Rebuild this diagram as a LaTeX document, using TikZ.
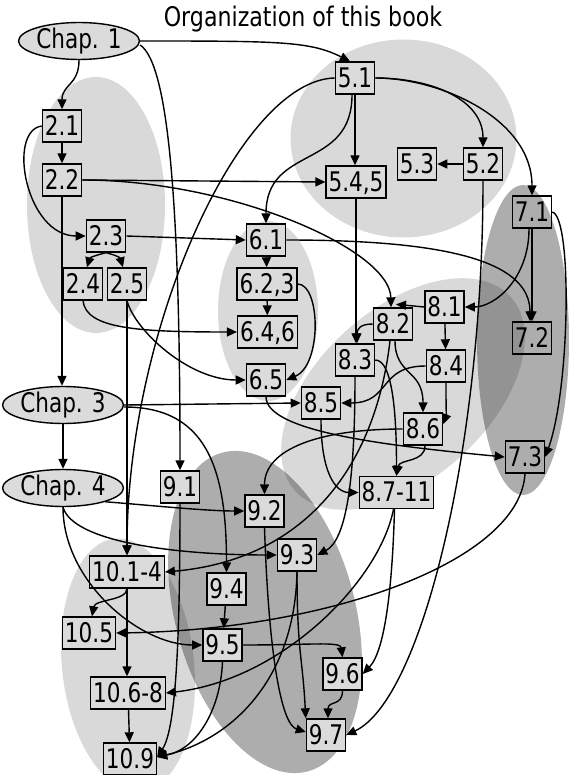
\documentclass[tikz,border=0pt]{standalone}
\usepackage{fontspec}
\setmainfont{DejaVu Sans}[FakeStretch=0.8]
\newfontfamily\titlefam{DejaVu Sans}[FakeStretch=0.82]
\usetikzlibrary{arrows.meta,shapes.geometric}
\definecolor{boxgray}{gray}{0.86}
\newcommand\myNodeFont{\fontsize{27}{30}\selectfont}
\newcommand\myTitleFont{\titlefam\fontsize{27}{30}\selectfont}
\begin{document}
\begin{tikzpicture}[x=1pt,y=-1pt,
  bx/.style={draw,line width=1.4pt,fill=boxgray,minimum height=32pt,inner xsep=2.4pt,inner ysep=0pt,text height=19.5pt,text depth=1pt,font=\myNodeFont},
  bxclear/.style={bx,fill=none},
  ch/.style={ellipse,draw,line width=1.4pt,fill=boxgray,minimum width=108pt,minimum height=35pt,inner sep=0pt,font=\myNodeFont},
  ar/.style={line width=1.4pt,-{Triangle[length=10pt,width=9pt]}},
  lightblob/.style={fill=black,fill opacity=0.15},
  darkblob/.style={fill=black,fill opacity=0.32}
]
\useasboundingbox (0,0) rectangle (568,775);
% background groups
\fill[lightblob] (96,205) ellipse [x radius=69, y radius=128];
\fill[lightblob] (403.5,138.5) ellipse [x radius=113, y radius=99];
\fill[lightblob] (268,311) ellipse [x radius=50, y radius=90];
\fill[lightblob, rotate around={42:(403,394)}] (403,394) ellipse [x radius=145, y radius=85];
\fill[darkblob, rotate around={-75:(265,612)}] (265,612) ellipse [x radius=165, y radius=90];
\fill[lightblob, rotate around={6:(128,665)}] (128,665) ellipse [x radius=66, y radius=127];
\fill[darkblob] (523,340) ellipse [x radius=46, y radius=155];

\node[font=\myTitleFont, anchor=base] (title) at (303,27) {Organization of this book};

\node[ch] (c1) at (79,41) {Chap. 1};
\node[ch] (c3) at (63,405) {Chap. 3};
\node[ch] (c4) at (63,488) {Chap. 4};
\node[bx] (n21) at (62,126) {2.1};
\node[bx] (n22) at (62,180) {2.2};
\node[bx] (n23) at (106,236) {2.3};
\node[bx] (n24) at (83,284) {2.4};
\node[bx] (n25) at (127,284) {2.5};
\node[bx] (n51) at (355,78) {5.1};
\node[bx] (n52) at (483,164) {5.2};
\node[bx] (n53) at (417,164) {5.3};
\node[bx] (n545) at (356,182) {5.4,5};
\node[bx] (n61) at (266,240) {6.1};
\node[bx] (n623) at (267,284) {6.2,3};
\node[bx] (n646) at (267.5,332) {6.4,6};
\node[bx] (n65) at (266,380) {6.5};
\node[bxclear] (n71) at (532,212) {7.1};
\node[bxclear] (n72) at (532,338) {7.2};
\node[bxclear] (n73) at (525,457) {7.3};
\node[bx] (n81) at (444.5,307) {8.1};
\node[bx] (n82) at (393,324) {8.2};
\node[bx] (n83) at (355,360) {8.3};
\node[bx] (n84) at (446,366) {8.4};
\node[bx] (n85) at (321,403) {8.5};
\node[bx] (n86) at (423,429) {8.6};
\node[bx] (n8711) at (396.5,492.5) {8.7-11};
\node[bx] (n91) at (180,487) {9.1};
\node[bx] (n92) at (264.5,511) {9.2};
\node[bx] (n93) at (297,555) {9.3};
\node[bx] (n94) at (226.5,589) {9.4};
\node[bx] (n95) at (222.5,645) {9.5};
\node[bx] (n96) at (342.5,674) {9.6};
\node[bx] (n97) at (326,735) {9.7};
\node[bx] (n1014) at (127,572) {10.1-4};
\node[bx] (n105) at (89,633) {10.5};
\node[bx] (n1068) at (128,693) {10.6-8};
\node[bx] (n109) at (130,759) {10.9};

% chapter 1
\draw[ar] (c1.south) .. controls +(0,25) and +(0,-25) .. (n21.north);
\draw[ar] (c1.east) .. controls +(140,0) and +(-40,-20) .. ([xshift=-5pt]n51.north);
\draw[ar] ([yshift=-4pt]c1.east) .. controls +(30,20) and +(0,-250) .. (n91.north);
% chapter 2
\draw[ar] (n21) -- (n22);
\draw[ar] (n21.west) .. controls +(-35,5) and +(-60,0) .. (n23.west);
\draw[ar] (n22.east) -- (n545.west);
\draw[ar] (n22.east) .. controls +(149,0) and +(-1,-58) .. ([xshift=-2pt]n82.north);
\draw[ar] (n22.south) -- (n22.south |- c3.north);
\draw[ar] (n23.east) -- (n61.west);
\draw[ar] (n23.south) .. controls +(-8,2) and +(3,-10) .. ([xshift=4pt]n24.north);
\draw[ar] (n23.south) .. controls +(8,2) and +(-3,-10) .. ([xshift=-4pt]n25.north);
\draw[ar] (n24.south) .. controls +(3,28) and +(-100,0) .. (n646.west);
\draw[ar] (n25.south) .. controls +(8,30) and +(-57,0) .. (n65.west);
\draw[ar] (n25.south) -- (n25.south |- n1014.north);
% chapter 5
\draw[ar] ([xshift=-3pt]n51.south) .. controls +(0,76) and +(0,-79) .. (n61.north);
\draw[ar] (n51.south) -- (n51.south |- n545.north);
\draw[ar] (n51.east) .. controls +(56,0) and +(0,-48) .. (n52.north);
\draw[ar] (n51.east) .. controls +(66,0) and +(0,-76) .. (n71.north);
\draw[ar] (n51.west) .. controls +(-95,2) and +(0,-226) .. (n1014.north);
\draw[ar] (n52.west) -- (n53.east);
\draw[ar] (n52.south) .. controls +(0,269) and +(75,-35) .. (n97.east);
\draw[ar] (n545.south) -- (n545.south |- n83.north);
% chapter 7
\draw[ar] (n71) -- (n72);
\draw[ar] ([xshift=-3pt]n71.south) .. controls +(0,50) and +(30,0) .. (n81.east);
\draw[ar] (n71.east) .. controls +(20,5) and +(25,-70) .. (n73.east);
\draw[ar] (n73.south) .. controls +(-5,87) and +(214,-3) .. (n105.east);
% chapter 6
\draw[ar] (n61) -- (n623);
\draw[ar] (n61.east) .. controls +(154,0) and +(0,-62) .. ([xshift=-2pt]n72.north);
\draw[ar] (n623) -- (n646);
\draw[ar] (n623.east) .. controls +(23,0) and +(36,-15) .. (n65.east);
\draw[ar] (n65.south) .. controls +(0,34) and +(-126,-12) .. (n73.west);
% chapter 3 and 4
\draw[ar] (c3.east) -- (n85.west);
\draw[ar] ([yshift=-2pt]c3.east) .. controls +(83,0) and +(0,-103) .. (n94.north);
\draw[ar] (c3) -- (c4);
\draw[ar] (c4.-18) .. controls +(40,3) and +(-40,0) .. (n92.west);
\draw[ar] (c4.south) .. controls +(10,35) and +(-100,0) .. (n93.west);
\draw[ar] (c4.south) .. controls +(0,74) and +(-63,0) .. (n95.west);
% chapter 8
\draw[ar] (n81.west) -- ([xshift=3pt,yshift=3pt]n82.north);
\draw[ar] (n81) -- (n84);
\draw[ar] (n82.west) .. controls +(-13,0) and +(0,-14) .. ([xshift=2pt]n83.north);
\draw[ar] ([xshift=2pt]n82.south) .. controls +(0,35) and +(0,-43) .. (n86.north);
\draw[ar] ([xshift=-3pt]n82.south) .. controls +(-15,130) and +(137,-12) .. (n1014.east);
\draw[ar] (n83.south) .. controls +(0,104) and +(29,-15) .. (n93.east);
\draw[ar] (n83.east) .. controls +(18,0) and +(0,-57) .. (n8711.north);
\draw[ar] (n84.west) .. controls +(-48,0) and +(50,0) .. (n85.east);
\draw[ar] (n84.south) .. controls +(0,30) and +(3,-8) .. ([yshift=5pt]n86.east);
\draw[ar] (n85.south) .. controls +(0,51) and +(-24,0) .. (n8711.west);
\draw[ar] ([xshift=2pt]n86.south) .. controls +(0,17) and +(3,-17) .. (n8711.north);
\draw[ar] (n86.west) .. controls +(-84,0) and +(0,-45) .. (n92.north);
\draw[ar] ([xshift=-2pt]n8711.south) .. controls +(-2,72) and +(23,-24) .. (n96.east);
\draw[ar] ([xshift=-3pt]n8711.south) .. controls +(-14,72) and +(116,-13) .. (n1068.east);
% chapter 9
\draw[ar] (n91.south) .. controls +(0,147) and +(18,-27) .. ([yshift=2pt]n109.east);
\draw[ar] (n92.south) .. controls +(4,123) and +(-25,-8) .. ([yshift=3pt]n97.west);
\draw[ar] (n93.south) .. controls +(0,80) and +(-3,-60) .. (n97.north west);
\draw[ar] (n93.south) .. controls +(-2,109) and +(73,-17) .. ([yshift=2pt]n109.east);
\draw[ar] (n94) -- (n95);
\draw[ar] (n95.east) .. controls +(68,0) and +(-2,-16) .. (n96.north);
\draw[ar] (n95.south) .. controls +(-2,48) and +(40,-8) .. ([yshift=2pt]n109.east);
\draw[ar] (n96.south) .. controls +(0,16) and +(0,-18) .. ([xshift=2pt]n97.north);
% chapter 10
\draw[ar] (n1014.south) .. controls +(0,12) and +(3,-17) .. ([xshift=3pt]n105.north);
\draw[ar] (n1014.south) -- (n1014.south |- n1068.north);
\draw[ar] (n1068) -- (n109);
\end{tikzpicture}
\end{document}
